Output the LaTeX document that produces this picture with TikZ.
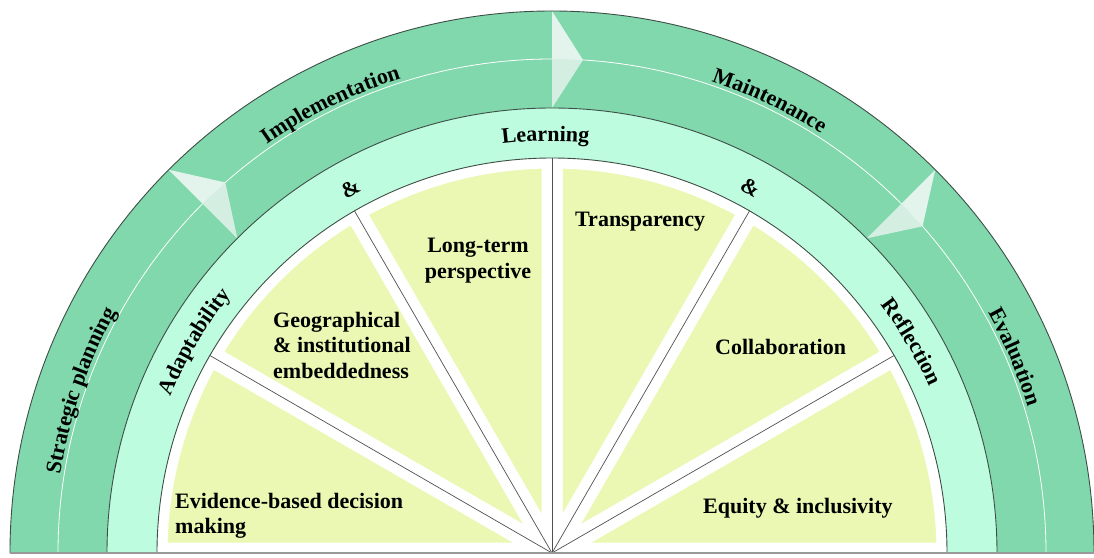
\documentclass[tikz,border=0pt]{standalone}
\usepackage{fontspec}
\setmainfont{Liberation Serif}
\usetikzlibrary{decorations.text}

% palette
\definecolor{bandDark}{RGB}{128,216,172}
\definecolor{bandLight}{RGB}{190,252,224}
\definecolor{wedgeFill}{RGB}{234,248,180}
\definecolor{rimLine}{RGB}{62,78,70}
\definecolor{spokeLine}{RGB}{80,80,80}
\definecolor{chevOuter}{RGB}{226,244,235}
\definecolor{chevInner}{RGB}{212,238,226}

\newcommand\diagfont{\bfseries\fontsize{22}{25.5}\selectfont}

% text set along a clockwise arc: radius, centre angle, half span, text
\newcommand\arclabel[4]{%
  \path[decorate, decoration={text along path, text align=center,
        text={|\diagfont|#4}}]
    ({#2+#3}:#1) arc[start angle={#2+#3}, end angle={#2-#3}, radius=#1];}

% chevron in the outer band: base angle
\newcommand\chevron[1]{%
  \fill[chevOuter] (#1:542) -- ({#1-3.6}:494) -- (#1:494) -- cycle;
  \fill[chevInner] (#1:494) -- ({#1-3.6}:494) -- (#1:445) -- cycle;}

\begin{document}
\begin{tikzpicture}[x=1pt, y=1pt,
  rim/.style={draw=rimLine, line width=0.9pt},
  spoke/.style={draw=spokeLine, line width=0.7pt},
  groundline/.style={draw=black!40, line width=1.2pt},
  wedgetext/.style={font=\diagfont, inner sep=0pt, text=black},
  amptext/.style={font=\diagfont, inner sep=0pt, text=black}]

\useasboundingbox (-552,-4) rectangle (542,553);

% outer band: process stages
\fill[bandDark] (542,0) arc[start angle=0, end angle=180, radius=542]
  -- (-445,0) arc[start angle=180, end angle=0, radius=445] -- cycle;
\draw[white, line width=0.8pt] (494,0) arc[start angle=0, end angle=180, radius=494];
\chevron{135}
\chevron{90}
\chevron{45}
\draw[rim] (542,0) arc[start angle=0, end angle=180, radius=542];

% middle band
\fill[bandLight] (445,0) arc[start angle=0, end angle=180, radius=445]
  -- (-395,0) arc[start angle=180, end angle=0, radius=395] -- cycle;
\draw[rim] (445,0) arc[start angle=0, end angle=180, radius=445];

% principle wedges with white margins
\begin{scope}
  \clip (0,0) circle[radius=395];
  \foreach \a in {0,30,...,150}
    \filldraw[fill=wedgeFill, draw=white, line width=21pt, line join=round]
      (0,0) -- (\a:395) arc[start angle=\a, end angle=\a+30, radius=395] -- cycle;
\end{scope}

% spokes
\coordinate (O) at (0,0);
\foreach \a in {30,60,...,150} {
  \coordinate (s\a) at (\a:395);
  \draw[spoke] (O) -- (s\a);
}
\draw[rim] (395,0) arc[start angle=0, end angle=180, radius=395];

% diameter
\coordinate (gl) at (-542,0);
\coordinate (gr) at (542,0);
\draw[groundline] (gl) -- (gr);

% outer band labels
\arclabel{498}{161}{30}{Strategic planning}
\arclabel{498}{116.3}{30}{Implementation}
\arclabel{498}{64.3}{30}{Maintenance}
\arclabel{498}{23}{30}{Evaluation}

% middle band labels
\arclabel{412}{149.4}{30}{Adaptability}
\arclabel{412}{90.9}{30}{Learning}
\arclabel{412}{30.4}{30}{Reflection}
\node[amptext, rotate=29] (ampL) at (119:416) {\&};
\node[amptext, rotate=-28.5] (ampR) at (61.5:416) {\&};

% wedge labels
\node[wedgetext, anchor=north west, align=left] (evid) at (-377,60)
  {Evidence-based decision\\making};
\node[wedgetext, anchor=north west, align=left] (geo) at (-279,241)
  {Geographical\\\& institutional\\embeddedness};
\node[wedgetext, anchor=north, align=center] (long) at (-74,315)
  {Long-term\\perspective};
\node[wedgetext, anchor=base west] (trans) at (23,326) {Transparency};
\node[wedgetext, anchor=base west] (collab) at (163,198) {Collaboration};
\node[wedgetext, anchor=base west] (equity) at (151,40) {Equity \& inclusivity};
\end{tikzpicture}
\end{document}
